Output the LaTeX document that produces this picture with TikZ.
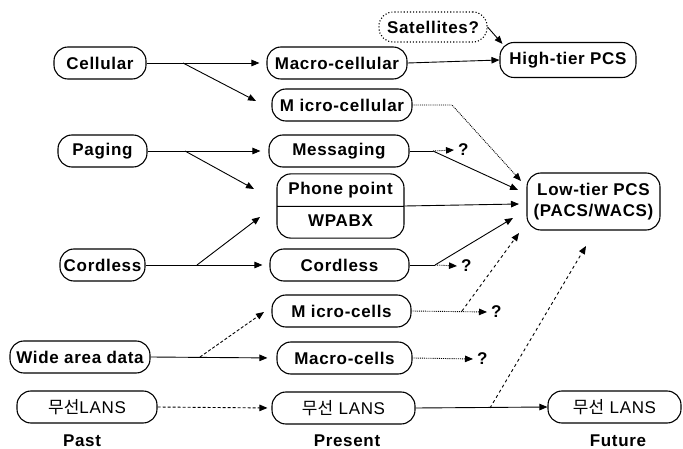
\documentclass[tikz,border=0pt]{standalone}
\usepackage{fontspec}
\setmainfont{Liberation Sans}[LetterSpace=4]
\newfontfamily\cjk{Noto Sans CJK KR}
\usetikzlibrary{arrows.meta,shapes.multipart,calc}
\begin{document}
\begin{tikzpicture}[x=1pt,y=-1pt,
  txt/.style={font=\fontsize{17}{20}\selectfont\bfseries},
  box/.style={txt, draw, line width=1.1pt, rounded corners=14pt,
    minimum height=32pt, inner sep=2pt},
  qmark/.style={txt, inner xsep=4pt, inner ysep=1pt, anchor=west},
  con/.style={line width=0.9pt},
  tip/.style={-{Triangle[length=8pt,width=6.5pt]}},
]
\useasboundingbox (0,0) rectangle (683,449);

% ---- past ----
\node[box, minimum width=92pt] (cellular) at (100,63) {Cellular};
\node[box, minimum width=89pt] (paging) at (102.5,151) {Paging};
\node[box, minimum width=85pt] (cordA) at (102.5,265) {Cordless};
\node[box, minimum width=140pt] (wide) at (80,357) {Wide area data};
\node[box, minimum width=140pt] (wlanA) at (87,407) {{\cjk\mdseries 무선}\mdseries LANS};

% ---- present ----
\node[box, minimum width=140pt] (macro) at (337,63) {Macro-cellular};
\node[box, minimum width=140pt] (micro) at (342,105) {M icro-cellular};
\node[box, minimum width=140pt] (msg) at (339,151) {Messaging};
\node[txt, draw, line width=1.1pt, rounded corners=14pt, rectangle split,
  rectangle split parts=2, minimum width=127pt, inner xsep=2pt, inner ysep=7.5pt]
  (phone) at (340.5,206)
  {\rule[-4pt]{0pt}{15pt}Phone point\nodepart{two}\rule[-4pt]{0pt}{15pt}WPABX};
\node[box, minimum width=139pt] (cordB) at (339.5,265) {Cordless};
\node[box, minimum width=139pt] (mcells) at (341.5,311) {M icro-cells};
\node[box, minimum width=135pt] (macells) at (344.5,358) {Macro-cells};
\node[box, minimum width=143pt] (wlanB) at (343.5,408) {{\cjk\mdseries 무선} \mdseries LANS};

% ---- future ----
\node[box, dotted, minimum width=108pt, minimum height=30pt] (sat) at (433,27) {Satellites?};
\node[box, minimum width=136pt, minimum height=35pt] (high) at (568,60) {High-tier PCS};
\node[box, minimum width=133pt, minimum height=57pt, align=center,
  font=\fontsize{17}{21}\selectfont\bfseries] (low) at (593.5,201.5) {Low-tier PCS\\(PACS/WACS)};
\node[box, minimum width=133pt] (wlanC) at (614.5,407) {{\cjk\mdseries 무선} \mdseries LANS};

% ---- column labels ----
\node[txt] (past) at (82,441) {Past};
\node[txt] (present) at (347,441) {Present};
\node[txt] (future) at (618,441) {Future};

% ---- branch points and free arrow ends ----
\coordinate (bCell) at (183,63);
\coordinate (tMicro) at (256,101);
\coordinate (bPag) at (185,151);
\coordinate (tPhoneA) at (254,189);
\coordinate (bCord) at (197,265);
\coordinate (tPhoneB) at (260,217);
\coordinate (bWide) at (200,357);
\coordinate (tMcells) at (264,312);

\coordinate (kMicro) at (452,105);
\coordinate (tLowA) at (521,181);
\coordinate (bMsg) at (433,151);
\coordinate (tLowB) at (518,190);
\coordinate (tLowC) at (519,204);
\coordinate (bCordB) at (435,265);
\coordinate (tLowD) at (513,218);
\coordinate (bMcells) at (462,311);
\coordinate (tLowE) at (519,233);
\coordinate (bWlan) at (490,408);
\coordinate (tLowF) at (586,246);

\node[qmark] (qMsg) at (454,150) {?};
\node[qmark] (qCord) at (457,266) {?};
\node[qmark] (qMcells) at (487,312) {?};
\node[qmark] (qMacells) at (473,359) {?};

% ---- past to present ----
\draw[con, tip, shorten >=7pt] (cellular.east) -- (macro.west);
\draw[con, tip] (bCell) -- (tMicro);
\draw[con, tip, shorten >=8pt] (paging.east) -- (msg.west);
\draw[con, tip] (bPag) -- (tPhoneA);
\draw[con, tip, shorten >=7pt] (cordA.east) -- (cordB.west);
\draw[con, tip] (bCord) -- (tPhoneB);
\draw[con, tip, shorten >=9pt] (wide.east) -- (macells.west);
\draw[con, densely dashed, tip] (bWide) -- (tMcells);
\draw[con, densely dashed, tip, shorten >=4pt] (wlanA.east) -- (wlanB.west);

% ---- present to future ----
\draw[con, tip] (macro.east) -- (high.west);
\draw[con, tip] (sat.east) -- ($(high.north west)+(3,2)$);
\draw[con, densely dotted, tip] (micro.east) -- (kMicro) -- (tLowA);
\draw[con] (msg.east) -- (bMsg);
\draw[con, densely dotted, tip] (bMsg) -- (qMsg.west);
\draw[con, tip] (bMsg) -- (tLowB);
\draw[con, tip] (phone.east) -- (tLowC);
\draw[con] (cordB.east) -- (bCordB);
\draw[con, tip] (bCordB) -- (tLowD);
\draw[con, densely dotted, tip] (bCordB) -- (qCord.west);
\draw[con, densely dotted, tip] (mcells.east) -- (qMcells.west);
\draw[con, dashed, tip] (bMcells) -- (tLowE);
\draw[con, densely dotted, tip] (macells.east) -- (qMacells.west);
\draw[con, tip] (wlanB.east) -- (wlanC.west);
\draw[con, dashed, tip] (bWlan) -- (tLowF);
\end{tikzpicture}
\end{document}
